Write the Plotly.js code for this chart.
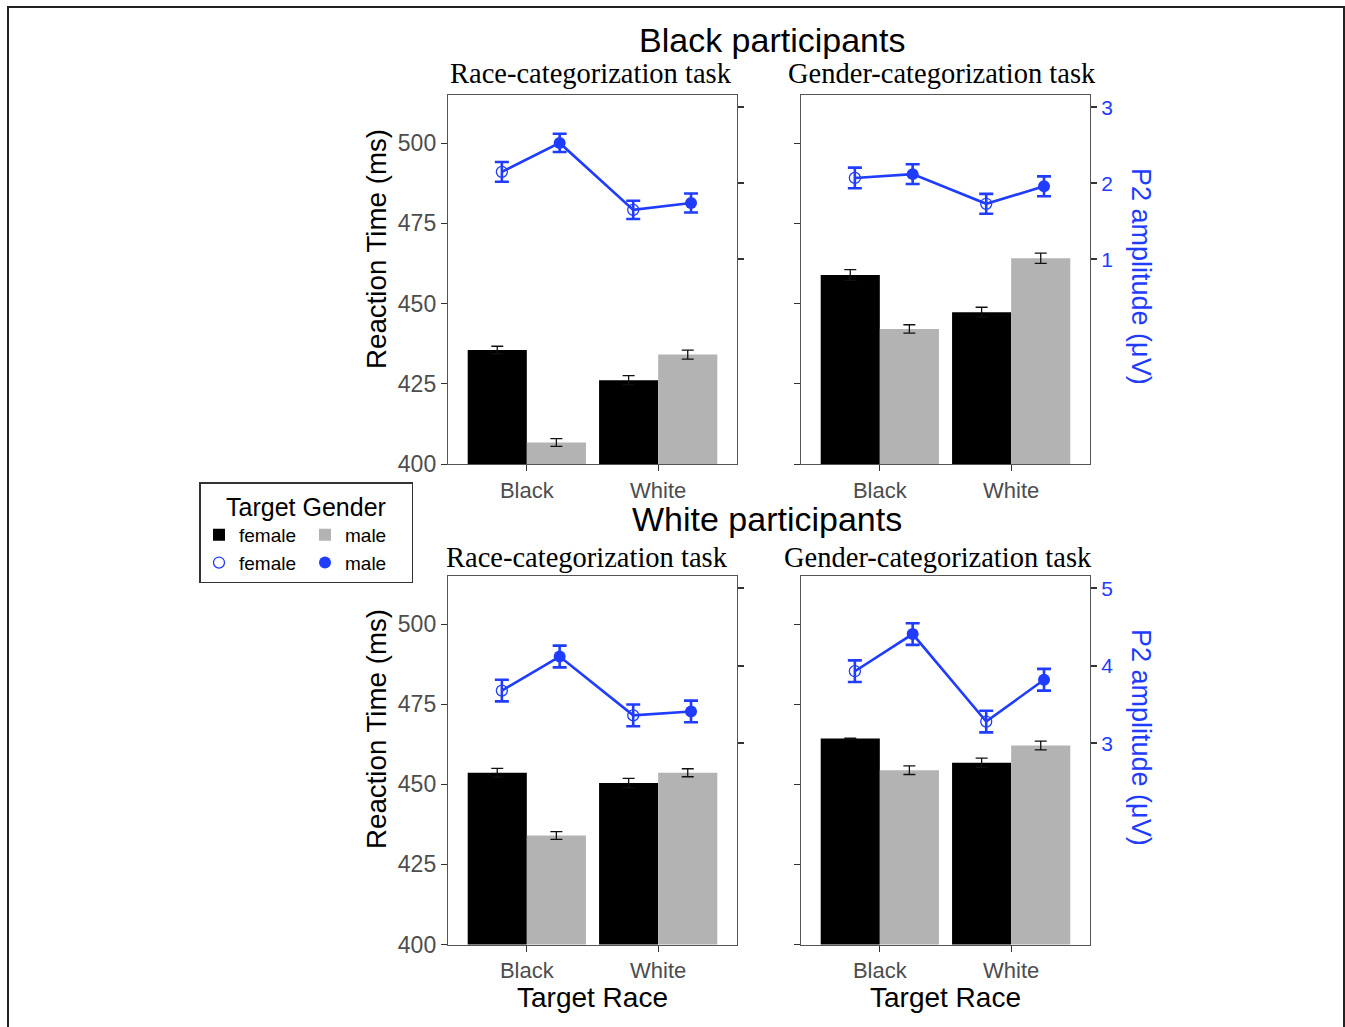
<!DOCTYPE html>
<html>
<head>
<meta charset="utf-8">
<script src="https://cdn.plot.ly/plotly-3.0.1.min.js"></script>
<style>
html, body { margin: 0; padding: 0; overflow: hidden; background: #fff; }
#chart { position: absolute; left: 0; top: 0; width: 1345px; height: 1027px; }
#frame { position: absolute; left: 7px; top: 6px; width: 1334px; height: 1060px; border: 2px solid #222; pointer-events: none; }
</style>
</head>
<body>
<div id="chart"></div>
<div id="frame"></div>
<script>
// ---------------- data ----------------
const targetRace = ['Black', 'White'];
const genderNames = ['female', 'male'];

// Black participants - Race-categorization task
const bpRaceRtFemale = [435.5, 426.1];
const bpRaceRtMale = [406.7, 434.1];
const bpRaceRtFemaleSe = [1.2, 1.45];
const bpRaceRtMaleSe = [1.2, 1.4];
const bpRaceP2Female = [2.15, 1.65];
const bpRaceP2Male = [2.53, 1.74];
const bpRaceP2FemaleSe = [0.13, 0.12];
const bpRaceP2MaleSe = [0.12, 0.125];

// Black participants - Gender-categorization task
const bpGenderRtFemale = [458.9, 447.3];
const bpGenderRtMale = [442.1, 464.1];
const bpGenderRtFemaleSe = [1.65, 1.55];
const bpGenderRtMaleSe = [1.3, 1.6];
const bpGenderP2Female = [2.07, 1.73];
const bpGenderP2Male = [2.12, 1.96];
const bpGenderP2FemaleSe = [0.135, 0.13];
const bpGenderP2MaleSe = [0.13, 0.13];

// White participants - Race-categorization task
const wpRaceRtFemale = [453.6, 450.4];
const wpRaceRtMale = [434.0, 453.6];
const wpRaceRtFemaleSe = [1.35, 1.45];
const wpRaceRtMaleSe = [1.2, 1.25];
const wpRaceP2Female = [3.68, 3.36];
const wpRaceP2Male = [4.12, 3.41];
const wpRaceP2FemaleSe = [0.14, 0.14];
const wpRaceP2MaleSe = [0.14, 0.14];

// White participants - Gender-categorization task
const wpGenderRtFemale = [464.3, 456.7];
const wpGenderRtMale = [454.4, 462.1];
const wpGenderRtFemaleSe = [0.1, 1.45];
const wpGenderRtMaleSe = [1.35, 1.35];
const wpGenderP2Female = [3.93, 3.28];
const wpGenderP2Male = [4.41, 3.82];
const wpGenderP2FemaleSe = [0.14, 0.14];
const wpGenderP2MaleSe = [0.14, 0.14];

const rtTicks = [400, 425, 450, 475, 500];
const p2TicksTop = [1, 2, 3];
const p2TicksBottom = [3, 4, 5];

const groupTitles = ['Black participants', 'White participants'];
const taskTitles = ['Race-categorization task', 'Gender-categorization task'];

// ---------------- styling ----------------
const W = 1345, H = 1027;
const SANS = 'Liberation Sans, Arial, sans-serif';
const SERIF = 'Liberation Serif, Times New Roman, serif';
const BLUE = '#1f3cff';
const FRAME = '#555555';
const TICKC = '#333333';
const px = v => v / W;
const py = v => 1 - v / H;
const dodgeF = -0.19, dodgeM = 0.25;

const panels = [
  {rtF: bpRaceRtFemale, rtM: bpRaceRtMale, rtFse: bpRaceRtFemaleSe, rtMse: bpRaceRtMaleSe,
   p2F: bpRaceP2Female, p2M: bpRaceP2Male, p2Fse: bpRaceP2FemaleSe, p2Mse: bpRaceP2MaleSe},
  {rtF: bpGenderRtFemale, rtM: bpGenderRtMale, rtFse: bpGenderRtFemaleSe, rtMse: bpGenderRtMaleSe,
   p2F: bpGenderP2Female, p2M: bpGenderP2Male, p2Fse: bpGenderP2FemaleSe, p2Mse: bpGenderP2MaleSe},
  {rtF: wpRaceRtFemale, rtM: wpRaceRtMale, rtFse: wpRaceRtFemaleSe, rtMse: wpRaceRtMaleSe,
   p2F: wpRaceP2Female, p2M: wpRaceP2Male, p2Fse: wpRaceP2FemaleSe, p2Mse: wpRaceP2MaleSe},
  {rtF: wpGenderRtFemale, rtM: wpGenderRtMale, rtFse: wpGenderRtFemaleSe, rtMse: wpGenderRtMaleSe,
   p2F: wpGenderP2Female, p2M: wpGenderP2Male, p2Fse: wpGenderP2FemaleSe, p2Mse: wpGenderP2MaleSe}
];

const traces = [];
panels.forEach((p, k) => {
  const n = k + 1;
  const xa = 'x' + (n === 1 ? '' : n);
  const ya = 'y' + (n === 1 ? '' : n);
  const ya2 = 'y' + (n + 4);
  const idx = targetRace.map((_, i) => i);
  const first = k === 0;
  traces.push({
    type: 'bar', x: idx, y: p.rtF, xaxis: xa, yaxis: ya,
    name: genderNames[0], legendgroup: 'female', showlegend: first,
    marker: {color: '#000000'},
    error_y: {type: 'data', array: p.rtFse, visible: true, color: '#111', thickness: 1.3, width: 6},
    hoverinfo: 'y'
  });
  traces.push({
    type: 'bar', x: idx, y: p.rtM, xaxis: xa, yaxis: ya,
    name: genderNames[1], legendgroup: 'male', showlegend: first,
    marker: {color: '#b3b3b3'},
    error_y: {type: 'data', array: p.rtMse, visible: true, color: '#111', thickness: 1.3, width: 6},
    hoverinfo: 'y'
  });
  // connecting line: Black-F, Black-M, White-F, White-M
  const lx = [], ly = [];
  idx.forEach(i => { lx.push(i + dodgeF, i + dodgeM); ly.push(p.p2F[i], p.p2M[i]); });
  traces.push({
    type: 'scatter', mode: 'lines', x: lx, y: ly, xaxis: xa, yaxis: ya2,
    line: {color: BLUE, width: 2.6}, showlegend: false, hoverinfo: 'skip'
  });
  traces.push({
    type: 'scatter', mode: 'markers', x: idx.map(i => i + dodgeF), y: p.p2F, xaxis: xa, yaxis: ya2,
    name: genderNames[0], legendgroup: 'female', showlegend: first,
    marker: {symbol: 'circle-open', size: 11, color: BLUE, line: {width: 1.3, color: BLUE}},
    error_y: {type: 'data', array: p.p2Fse, visible: true, color: BLUE, thickness: 2.6, width: 7}
  });
  traces.push({
    type: 'scatter', mode: 'markers', x: idx.map(i => i + dodgeM), y: p.p2M, xaxis: xa, yaxis: ya2,
    name: genderNames[1], legendgroup: 'male', showlegend: first,
    marker: {symbol: 'circle', size: 12, color: BLUE},
    error_y: {type: 'data', array: p.p2Mse, visible: true, color: BLUE, thickness: 2.6, width: 7}
  });
});

// ---------------- axes ----------------
const xDomL = [px(448), px(737)], xDomR = [px(801), px(1090)];
const yDomT = [py(464), py(95)], yDomB = [py(944.5), py(576)];

function xAxis(dom, anchor) {
  return {
    domain: dom, anchor: anchor, range: [-0.6, 1.6],
    tickmode: 'array', tickvals: targetRace.map((_, i) => i), ticktext: targetRace,
    ticks: 'outside', ticklen: 6, tickwidth: 1.4, tickcolor: TICKC,
    showline: true, mirror: true, linecolor: FRAME, linewidth: 1.4,
    showgrid: false, zeroline: false, fixedrange: true,
    tickfont: {family: SANS, size: 22, color: '#4d4d4d'}
  };
}
function yAxis(dom, anchor, labels) {
  return {
    domain: dom, anchor: anchor, range: [400, 515],
    tickmode: 'array', tickvals: rtTicks,
    ticks: 'outside', ticklen: 6, tickwidth: 1.4, tickcolor: TICKC,
    showticklabels: labels,
    showline: true, mirror: true, linecolor: FRAME, linewidth: 1.4,
    showgrid: false, zeroline: false, fixedrange: true,
    tickfont: {family: SANS, size: 23, color: '#4d4d4d'}
  };
}
function y2Axis(over, anchor, range, ticks, labels) {
  return {
    overlaying: over, anchor: anchor, side: 'right', range: range,
    tickmode: 'array', tickvals: ticks,
    ticks: 'outside', ticklen: 6, tickwidth: 1.6, tickcolor: TICKC,
    showticklabels: labels, showline: false,
    showgrid: false, zeroline: false, fixedrange: true,
    tickfont: {family: SANS, size: 21, color: BLUE}
  };
}

const rangeTop = [-1.69, 3.16], rangeBot = [0.40, 5.16];

const annotations = [];
function ann(text, x, y, size, family, color, angle) {
  annotations.push({text: text, x: px(x), y: py(y), xref: 'paper', yref: 'paper',
    xanchor: 'center', yanchor: 'middle', showarrow: false, textangle: angle || 0,
    font: {family: family, size: size, color: color || '#000'}});
}
ann(groupTitles[0], 772, 40, 34, SANS);
ann(groupTitles[1], 767, 519, 34, SANS);
ann(taskTitles[0], 591, 73, 28.5, SERIF);
ann(taskTitles[1], 942, 73, 28.5, SERIF);
ann(taskTitles[0], 587, 557, 28.5, SERIF);
ann(taskTitles[1], 938, 557, 28.5, SERIF);
ann('Reaction Time (ms)', 376, 249, 27.7, SANS, '#000', -90);
ann('Reaction Time (ms)', 376, 729, 27.7, SANS, '#000', -90);
ann('P2 amplitude (μV)', 1141, 276, 27, SANS, BLUE, 90);
ann('P2 amplitude (μV)', 1141, 737, 27, SANS, BLUE, 90);
ann('Target Race', 592, 997, 28, SANS);
ann('Target Race', 945, 997, 28, SANS);

const layout = {
  width: W, height: H,
  margin: {l: 0, r: 0, t: 0, b: 0, pad: 0},
  paper_bgcolor: '#ffffff', plot_bgcolor: '#ffffff',
  barmode: 'group', bargap: 0.1, bargroupgap: 0,
  font: {family: SANS, color: '#000'},
  showlegend: true,
  legend: {
    orientation: 'h', traceorder: 'grouped',
    x: px(199), y: py(482), xanchor: 'left', yanchor: 'top',
    bordercolor: '#333', borderwidth: 1.5, bgcolor: '#fff',
    font: {family: SANS, size: 19, color: '#000'},
    title: {text: 'Target Gender', side: 'top center', font: {family: SANS, size: 25, color: '#000'}},
    tracegroupgap: 0, entrywidth: 61, itemclick: false, itemdoubleclick: false
  },
  xaxis: xAxis(xDomL, 'y'),
  yaxis: yAxis(yDomT, 'x', true),
  xaxis2: xAxis(xDomR, 'y2'),
  yaxis2: yAxis(yDomT, 'x2', false),
  xaxis3: xAxis(xDomL, 'y3'),
  yaxis3: yAxis(yDomB, 'x3', true),
  xaxis4: xAxis(xDomR, 'y4'),
  yaxis4: yAxis(yDomB, 'x4', false),
  yaxis5: y2Axis('y', 'x', rangeTop, p2TicksTop, false),
  yaxis6: y2Axis('y2', 'x2', rangeTop, p2TicksTop, true),
  yaxis7: y2Axis('y3', 'x3', rangeBot, p2TicksBottom, false),
  yaxis8: y2Axis('y4', 'x4', rangeBot, p2TicksBottom, true),
  annotations: annotations
};

Plotly.newPlot('chart', traces, layout, {displayModeBar: false, staticPlot: false});
</script>
</body>
</html>
